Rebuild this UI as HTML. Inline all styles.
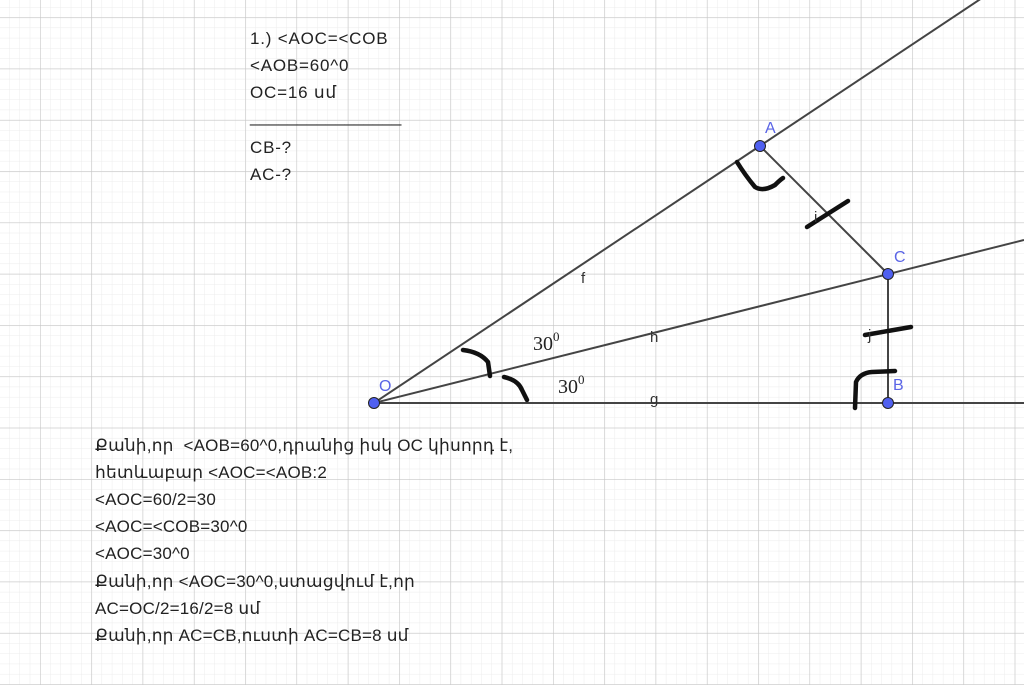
<!DOCTYPE html>
<html><head><meta charset="utf-8"><style>
html,body{margin:0;padding:0;background:#fff;}
svg{display:block;}
.t{font-family:"Liberation Sans","DejaVu Sans",sans-serif;}
.s{font-family:"Liberation Serif","DejaVu Serif",serif;}
</style></head><body>
<svg width="1024" height="685" viewBox="0 0 1024 685" xmlns="http://www.w3.org/2000/svg">
<defs>
<pattern id="minor" x="40" y="17.3" width="10.26" height="10.26" patternUnits="userSpaceOnUse">
<path d="M0 0H10.26M0 0V10.26" stroke="#ececec" stroke-width="1" fill="none"/>
</pattern>
<pattern id="major" x="40" y="17.3" width="51.3" height="51.3" patternUnits="userSpaceOnUse">
<path d="M0 0H51.3M0 0V51.3" stroke="#c6c6c6" stroke-width="1.2" fill="none"/>
</pattern>
</defs>
<rect width="1024" height="685" fill="#fff"/>
<rect width="1024" height="685" fill="url(#minor)"/>
<rect width="1024" height="685" fill="url(#major)"/>

<g stroke="#444" stroke-width="2" fill="none">
<line x1="374" y1="403" x2="982" y2="-2"/>
<line x1="374" y1="403" x2="1024" y2="240"/>
<line x1="374" y1="403" x2="1024" y2="403"/>
<line x1="760" y1="146" x2="888" y2="274"/>
<line x1="888" y1="274" x2="888" y2="403"/>
</g>
<g stroke="#111" stroke-width="4.5" fill="none" stroke-linecap="round" stroke-linejoin="round">
<path d="M463 350 Q480 352 488 362 L490 376"/>
<path d="M504 377 Q518 380 522 390 L527 400"/>
<path d="M737 162 Q745 175 755 187 Q763 192 775 185 Q780 180 783 178"/>
<path d="M807 227 L848 201"/>
<path d="M865 335 L911 327"/>
<path d="M855 408 L856 382 Q860 373 872 372 L895 371"/>
</g>
<g fill="#5060f0" stroke="#222" stroke-width="1">
<circle cx="374" cy="403" r="5.5"/>
<circle cx="760" cy="146" r="5.5"/>
<circle cx="888" cy="274" r="5.5"/>
<circle cx="888" cy="403" r="5.5"/>
</g>
<g fill="#5a64e6" font-size="16" class="t">
<text x="379" y="391">O</text>
<text x="765" y="133">A</text>
<text x="894" y="262">C</text>
<text x="893" y="390">B</text>
</g>
<g fill="#333" font-size="15" class="t">
<text x="581" y="283">f</text>
<text x="650" y="342">h</text>
<text x="650" y="404">g</text>
<text x="814" y="222">i</text>
<text x="868" y="340">j</text>
</g>
<g fill="#222" font-size="20" class="s">
<text x="533" y="350">30<tspan font-size="13" dy="-9">0</tspan></text>
<text x="558" y="393">30<tspan font-size="13" dy="-9">0</tspan></text>
</g>
<g fill="#222" font-size="17" letter-spacing="0.8" class="t">
<text x="250" y="44">1.) &lt;AOC=&lt;COB</text>
<text x="250" y="71">&lt;AOB=60^0</text>
<text x="250" y="98">OC=16 սմ</text>
<text x="250" y="122" letter-spacing="0">________________</text>
<text x="250" y="153">CB-?</text>
<text x="250" y="180">AC-?</text>
</g>
<g fill="#222" font-size="17" letter-spacing="0.2" class="t">
<text x="95" y="451" xml:space="preserve">Քանի,որ  &lt;AOB=60^0,դրանից իսկ OC կիսորդ է,</text>
<text x="95" y="478">հետևաբար &lt;AOC=&lt;AOB:2</text>
<text x="95" y="505">&lt;AOC=60/2=30</text>
<text x="95" y="532">&lt;AOC=&lt;COB=30^0</text>
<text x="95" y="559">&lt;AOC=30^0</text>
<text x="95" y="587">Քանի,որ &lt;AOC=30^0,ստացվում է,որ</text>
<text x="95" y="614">AC=OC/2=16/2=8 սմ</text>
<text x="95" y="641">Քանի,որ AC=CB,ուստի AC=CB=8 սմ</text>
</g>
</svg>
</body></html>
